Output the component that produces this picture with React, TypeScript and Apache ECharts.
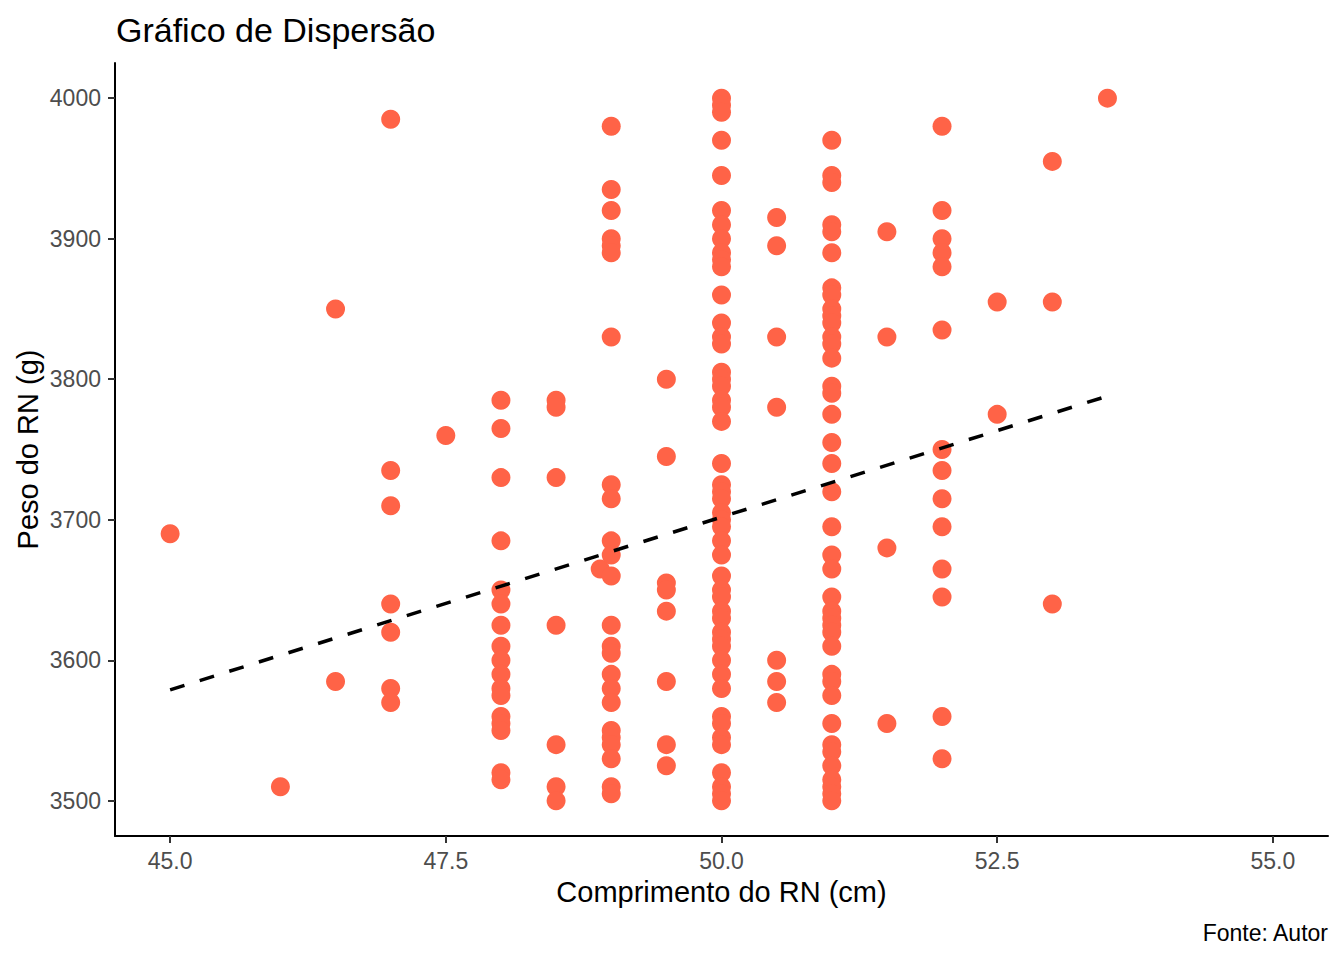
import React, { useEffect, useRef } from "react";
import * as echarts from "echarts";

// Comprimento do RN (cm) for each column of points
const lengths: number[] = [45, 46, 46.5, 47, 47.5, 48, 48.5, 48.9, 49, 49.5, 50, 50.5, 51, 51.5, 52, 52.5, 53, 53.5];

// Peso do RN (g) read for each length above (same order)
const weights45: number[] = [3690];
const weights46: number[] = [3510];
const weights465: number[] = [3850, 3585];
const weights47: number[] = [3985, 3735, 3710, 3640, 3620, 3580, 3570];
const weights475: number[] = [3760];
const weights48: number[] = [3785, 3765, 3730, 3685, 3650, 3640, 3625, 3610, 3600, 3590, 3580, 3575, 3560, 3555, 3550, 3520, 3515];
const weights485: number[] = [3785, 3780, 3730, 3625, 3540, 3510, 3500];
const weights489: number[] = [3665];
const weights49: number[] = [3980, 3935, 3920, 3900, 3895, 3890, 3830, 3725, 3715, 3685, 3675, 3660, 3625, 3610, 3605, 3590, 3580, 3570, 3550, 3545, 3540, 3530, 3510, 3505];
const weights495: number[] = [3800, 3745, 3655, 3650, 3635, 3585, 3540, 3525];
const weights50: number[] = [4000, 3995, 3990, 3970, 3945, 3920, 3910, 3900, 3890, 3885, 3880, 3860, 3840, 3830, 3825, 3805, 3800, 3795, 3785, 3780, 3770, 3740, 3725, 3720, 3715, 3705, 3700, 3695, 3685, 3675, 3660, 3650, 3645, 3635, 3630, 3620, 3615, 3610, 3600, 3590, 3580, 3560, 3555, 3545, 3540, 3520, 3510, 3505, 3500];
const weights505: number[] = [3915, 3895, 3830, 3780, 3600, 3585, 3570];
const weights51: number[] = [3970, 3945, 3940, 3910, 3905, 3890, 3865, 3860, 3850, 3845, 3840, 3830, 3825, 3815, 3795, 3790, 3775, 3755, 3740, 3720, 3695, 3675, 3665, 3645, 3635, 3630, 3625, 3620, 3610, 3590, 3585, 3575, 3555, 3540, 3535, 3525, 3515, 3510, 3505, 3500];
const weights515: number[] = [3905, 3830, 3680, 3555];
const weights52: number[] = [3980, 3920, 3900, 3890, 3880, 3835, 3750, 3735, 3715, 3695, 3665, 3645, 3560, 3530];
const weights525: number[] = [3855, 3775];
const weights53: number[] = [3955, 3855, 3640];
const weights535: number[] = [4000];

const weightsByLength: number[][] = [
  weights45, weights46, weights465, weights47, weights475, weights48, weights485, weights489, weights49,
  weights495, weights50, weights505, weights51, weights515, weights52, weights525, weights53, weights535,
];

// Dashed linear trend (geom_smooth lm) endpoints
const trendX: number[] = [45, 53.5];
const trendY: number[] = [3579, 3788];

const xTicks: number[] = [45, 47.5, 50, 52.5, 55];
const yTicks: number[] = [3500, 3600, 3700, 3800, 3900, 4000];

const titleText = "Gráfico de Dispersão";
const xTitle = "Comprimento do RN (cm)";
const yTitle = "Peso do RN (g)";
const captionText = "Fonte: Autor";

const FONT = "'Liberation Sans', Arial, Helvetica, sans-serif";

export default function App() {
  const ref = useRef<HTMLDivElement | null>(null);

  useEffect(() => {
    document.body.style.margin = "0";
    if (!ref.current) return;
    const chart = echarts.init(ref.current, undefined, { renderer: "svg" });

    const points: number[][] = [];
    lengths.forEach((len, i) => {
      weightsByLength[i].forEach((w) => points.push([len, w]));
    });
    const trend = trendX.map((x, i) => [x, trendY[i]]);

    const gridLeft = 115;
    const gridRight = 16;
    const gridTop = 63;
    const gridBottom = 124;
    const plotMidX = (gridLeft + (1344 - gridRight)) / 2;
    const plotMidY = (gridTop + (960 - gridBottom)) / 2;

    chart.setOption({
      animation: false,
      backgroundColor: "#ffffff",
      textStyle: { fontFamily: FONT },
      grid: { left: gridLeft, right: gridRight, top: gridTop, bottom: gridBottom, containLabel: false },
      xAxis: {
        type: "value",
        min: 44.5,
        max: 55.5,
        axisLine: { show: true, onZero: false, lineStyle: { color: "#000000", width: 2 } },
        axisTick: { show: true, customValues: xTicks, length: 7, lineStyle: { color: "#333333", width: 2 } },
        axisLabel: {
          customValues: xTicks,
          formatter: (v: number) => v.toFixed(1),
          color: "#4d4d4d",
          fontSize: 23,
          fontFamily: FONT,
          margin: 13,
        },
        splitLine: { show: false },
      },
      yAxis: {
        type: "value",
        min: 3475,
        max: 4025,
        axisLine: { show: true, onZero: false, lineStyle: { color: "#000000", width: 2 } },
        axisTick: { show: true, customValues: yTicks, length: 7, lineStyle: { color: "#333333", width: 2 } },
        axisLabel: {
          customValues: yTicks,
          formatter: (v: number) => String(v),
          color: "#4d4d4d",
          fontSize: 23,
          fontFamily: FONT,
          margin: 14,
        },
        splitLine: { show: false },
      },
      graphic: [
        {
          type: "text",
          x: 116,
          y: 30,
          style: { text: titleText, fontSize: 34, fontFamily: FONT, fill: "#000000", textAlign: "left", textVerticalAlign: "middle" },
        },
        {
          type: "text",
          x: plotMidX,
          y: 892,
          style: { text: xTitle, fontSize: 29, fontFamily: FONT, fill: "#000000", textAlign: "center", textVerticalAlign: "middle" },
        },
        {
          type: "text",
          x: 28,
          y: plotMidY,
          rotation: Math.PI / 2,
          style: { text: yTitle, fontSize: 29, fontFamily: FONT, fill: "#000000", textAlign: "center", textVerticalAlign: "middle" },
        },
        {
          type: "text",
          x: 1328,
          y: 933,
          style: { text: captionText, fontSize: 23, fontFamily: FONT, fill: "#000000", textAlign: "right", textVerticalAlign: "middle" },
        },
      ],
      series: [
        {
          type: "scatter",
          data: points,
          symbol: "circle",
          symbolSize: 19,
          itemStyle: { color: "#ff6347", opacity: 1 },
          z: 2,
        },
        {
          type: "line",
          data: trend,
          showSymbol: false,
          symbol: "none",
          lineStyle: { color: "#000000", width: 3.5, type: [15, 16], cap: "butt" },
          z: 3,
        },
      ],
    });

    return () => {
      chart.dispose();
    };
  }, []);

  return <div ref={ref} style={{ width: 1344, height: 960 }} />;
}
